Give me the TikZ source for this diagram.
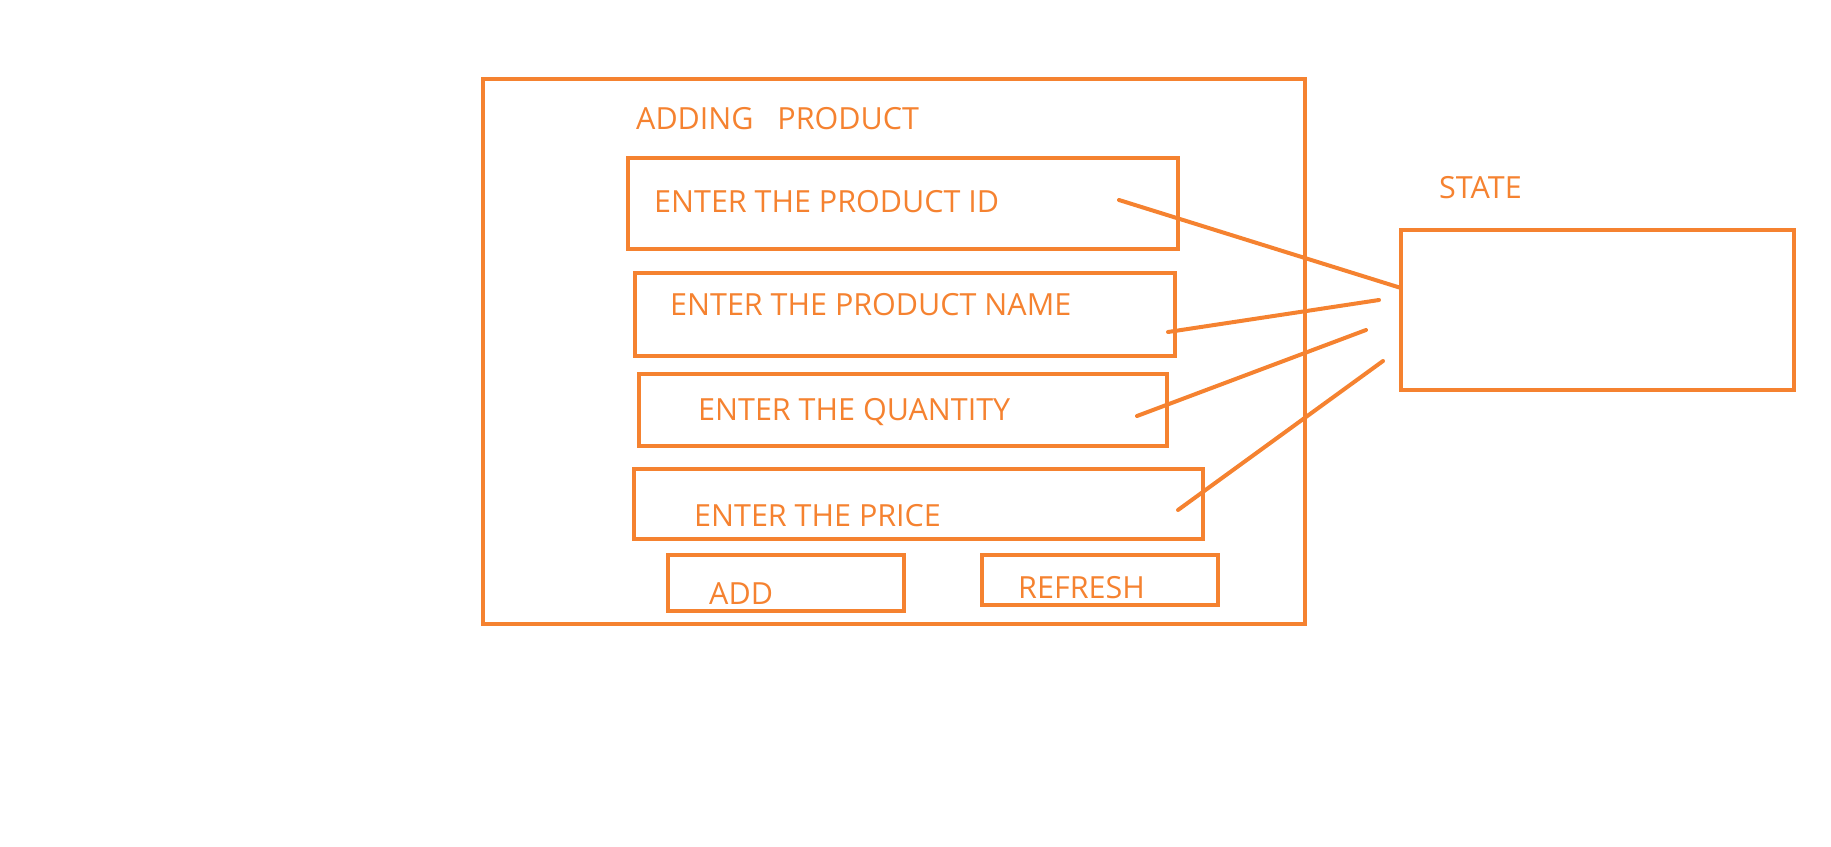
\documentclass[tikz,border=0pt]{standalone}
\usepackage{fontspec}
\setmainfont{Open Sans}
\definecolor{org}{RGB}{245,130,48}
\begin{document}
\begin{tikzpicture}[x=1pt,y=-1pt,
  box/.style={draw=org,line width=4.5pt,rectangle},
  lbl/.style={text=org,font=\fontsize{30.5}{34}\selectfont,anchor=west,inner sep=0pt},
  wire/.style={draw=org,line width=4pt,line cap=round}]
\useasboundingbox (0,0) rectangle (1831,846);
\draw[box] (483,79) rectangle (1305,624);
\node[lbl] (title) at (636,119) {ADDING\ \ \ PRODUCT};
\draw[box] (628,158) rectangle (1178,249);
\node[lbl] (tid) at (654,202) {ENTER THE PRODUCT ID};
\draw[box] (635,273) rectangle (1175,356);
\node[lbl] (tname) at (670,305) {ENTER THE PRODUCT NAME};
\draw[box] (639,374) rectangle (1167,446);
\node[lbl] (tqty) at (698,412) {ENTER THE QUANTITY};
\draw[box] (634,469) rectangle (1203,539);
\node[lbl] (tprice) at (694,516) {ENTER THE PRICE};
\draw[box] (668,555) rectangle (904,611);
\node[lbl] (tadd) at (709,594) {ADD};
\draw[box] (982,555) rectangle (1218,605);
\node[lbl] (tref) at (1018,588) {REFRESH};
\node[lbl] (tstate) at (1439,188) {STATE};
\draw[box] (1401,230) rectangle (1794,390);
\coordinate (a1) at (1119,200); \coordinate (b1) at (1401,288);
\coordinate (a2) at (1168,332); \coordinate (b2) at (1379,300);
\coordinate (a3) at (1137,416); \coordinate (b3) at (1366,330);
\coordinate (a4) at (1178,510); \coordinate (b4) at (1383,361);
\draw[wire] (a1) -- (b1);
\draw[wire] (a2) -- (b2);
\draw[wire] (a3) -- (b3);
\draw[wire] (a4) -- (b4);
\end{tikzpicture}
\end{document}
